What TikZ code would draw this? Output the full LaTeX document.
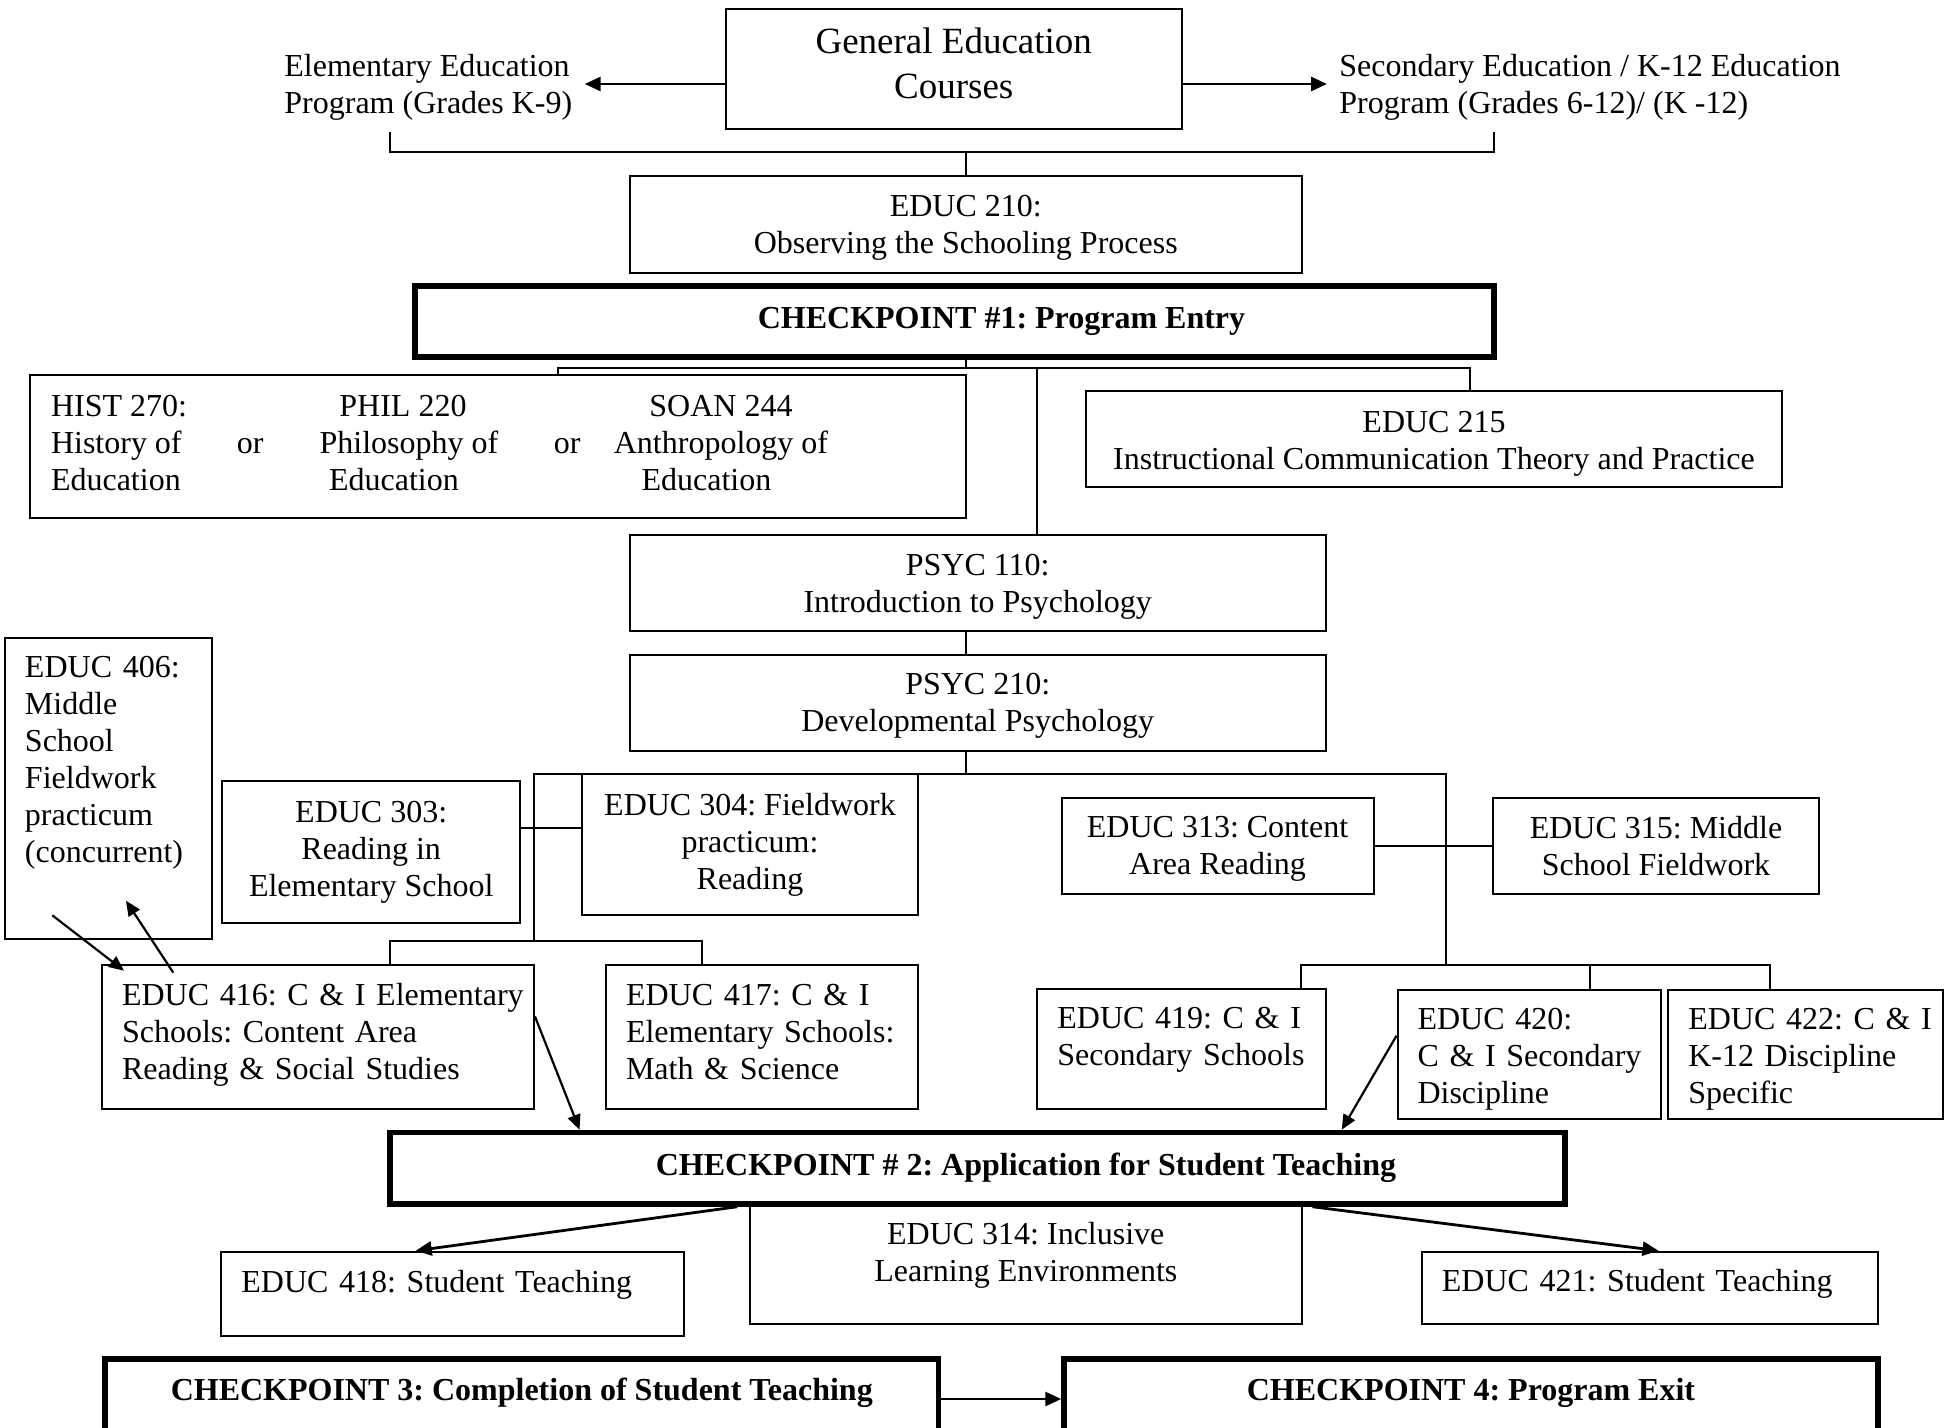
\documentclass[tikz,border=0pt]{standalone}
\usepackage{fontspec}
\setmainfont{Liberation Serif}
\usepackage{array}
\usetikzlibrary{arrows.meta,calc}
\frenchspacing
\begin{document}
\begin{tikzpicture}[x=0.5pt,y=-0.5pt,
  every node/.style={font=\fontsize{16}{18.5}\selectfont\frenchspacing},
  bx/.style={draw,line width=1pt,inner xsep=10.5pt,inner ysep=0pt,align=center},
  lbx/.style={draw,line width=1pt,inner xsep=10pt,inner ysep=0pt,align=left},
  ckp/.style={draw,line width=2.75pt,inner sep=0pt,align=center,font=\fontsize{16}{18.5}\selectfont\bfseries\frenchspacing},
  ln/.style={line width=1pt},
  arr/.style={line width=1.1pt,-{Triangle[length=7.5pt,width=6.5pt]}},
  barr/.style={line width=1.4pt,-{Triangle[length=8pt,width=7pt]}},
]
\useasboundingbox (0,0) rectangle (1950,1428);
\fill[white] (0,0) rectangle (1950,1428);
\clip (0,0) rectangle (1950,1428);

% top
\node[bx,minimum width=227.75pt,minimum height=60pt,font=\fontsize{18.5}{22.5}\selectfont] (gen) at (953.75,69) {General Education\\Courses\rule[-6.2pt]{0pt}{0pt}};
\node[align=left,inner sep=6pt,anchor=west] (elem) at (272,84) {\rule{0pt}{14pt}Elementary Education\\Program (Grades K-9)};
\node[align=left,inner sep=6pt,anchor=west] (sec) at (1327,84) {\rule{0pt}{14pt}Secondary Education / K-12 Education\\Program (Grades 6-12)/ (K -12)};
\draw[barr] (gen.west |- elem.east) -- (elem.east);
\draw[barr] (gen.east |- sec.west) -- (sec.west);

\coordinate (bl) at (390,152.5);
\coordinate (br) at (1494,152.5);
\draw[ln] (bl |- elem.south) -- (bl) -- (br) -- (br |- sec.south);

\node[bx,minimum width=336.25pt,minimum height=48.5pt] (e210) at (965.75,224.5) {\rule{0pt}{14pt}EDUC 210:\\Observing the Schooling Process};
\draw[ln] (e210.north |- bl) -- (e210.north);

\node[ckp,minimum width=539.5pt,minimum height=35.5pt] (cp1) at (954.5,321.5) {\hspace*{47pt}CHECKPOINT \#1: Program Entry};

\coordinate (j1) at (965.6,368);
\coordinate (jL) at (558,368);
\coordinate (jR) at (1470,368);
\coordinate (jP) at (1037,368);

\node[draw,line width=1pt,inner sep=0pt,minimum width=467.8pt,minimum height=71.5pt] (hist) at (497.8,446.5) {\begin{tabular}{@{}p{93pt}@{}p{37pt}@{}>{\centering\arraybackslash}p{92pt}@{}p{29.5pt}@{}p{28.5pt}@{}>{\centering\arraybackslash}p{110pt}@{}p{56.8pt}@{}}
HIST 270: & & PHIL 220 & & & SOAN 244 & \\
History of & or & \makebox[\linewidth]{\hspace*{6pt}Philosophy of} & & or & Anthropology of & \\
Education & & \makebox[\linewidth]{\hspace*{-9pt}Education} & & & \makebox[\linewidth]{\hspace*{-14.5pt}Education} &
\end{tabular}};

\node[bx,minimum width=348pt,minimum height=47.75pt] (e215) at (1434,439.25) {\rule{0pt}{15pt}EDUC 215\\Instructional Communication Theory and Practice};

\draw[ln] (j1 |- cp1.south) -- (j1);
\draw[ln] (jL |- hist.north) -- (jL) -- (jR) -- (jR |- e215.north);

\node[bx,minimum width=348.25pt,minimum height=48pt] (p110) at (977.75,583) {\rule{0pt}{14pt}PSYC 110:\\Introduction to Psychology};
\draw[ln] (jP) -- (jP |- p110.north);
\node[bx,minimum width=348.25pt,minimum height=48.05pt] (p210) at (977.75,702.75) {\rule{0pt}{14pt}PSYC 210:\\Developmental Psychology};
\draw[ln] (j1 |- p110.south) -- (j1 |- p210.north);

% middle tree
\coordinate (j2) at (965.6,773.7);
\coordinate (j2L) at (534,773.7);
\coordinate (j2R) at (1445.5,773.7);
\coordinate (j3) at (534,941);
\coordinate (k416) at (390,941);
\coordinate (k417) at (701.5,941);
\coordinate (j4) at (1445.5,965);
\coordinate (k419) at (1301.4,965);
\coordinate (k420) at (1589.7,965);
\coordinate (k422) at (1769.5,965);
\coordinate (k303) at (534,828);

\node[lbx,text width=83.5pt,minimum width=103.5pt,minimum height=150.75pt] (e406) at (108.5,788.25) {EDUC 406:\\Middle\\School\\Fieldwork\\practicum\\(concurrent)\rule[-29pt]{0pt}{0pt}};
\node[bx,minimum width=149.2pt,minimum height=70.6pt] (e303) at (371.2,852) {EDUC 303:\\Reading in\\Elementary School};
\node[bx,minimum width=168.4pt,minimum height=70.65pt] (e304) at (750,844.35) {EDUC 304: Fieldwork\\practicum:\\Reading};
\node[bx,minimum width=155.95pt,minimum height=48pt] (e313) at (1217.55,846) {\rule{0pt}{13.5pt}EDUC 313: Content\\Area Reading};
\node[bx,minimum width=162.6pt,minimum height=48pt] (e315) at (1656,846) {EDUC 315: Middle\\School Fieldwork};

\node[lbx,text width=196pt,minimum width=216pt,minimum height=72pt] (e416) at (318,1037) {\mbox{EDUC 416: C \& I Elementary}\\Schools: Content Area\\Reading \& Social Studies\rule[-6pt]{0pt}{0pt}};
\node[lbx,text width=136.2pt,minimum width=156.2pt,minimum height=72pt] (e417) at (762.2,1037) {EDUC 417: C \& I\\\mbox{Elementary Schools:}\\Math \& Science\rule[-5pt]{0pt}{0pt}};
\node[lbx,text width=124.1pt,minimum width=144.1pt,minimum height=60.2pt] (e419) at (1181.5,1049.2) {\mbox{EDUC 419: C \& I}\\\mbox{Secondary Schools}\rule[-12.7pt]{0pt}{0pt}};
\node[lbx,text width=111.9pt,minimum width=131.9pt,minimum height=64.65pt] (e420) at (1529.4,1054.65) {\rule{0pt}{15pt}EDUC 420:\\\mbox{C \& I Secondary}\\Discipline};
\node[lbx,text width=117.5pt,minimum width=137.5pt,minimum height=64.65pt] (e422) at (1805.8,1054.65) {\rule{0pt}{15pt}\mbox{EDUC 422: C \& I}\\K-12 Discipline\\Specific};

\draw[ln] (j2 |- p210.south) -- (j2);
\draw[ln] (j3) -- (j2L) -- (j2R) -- (j4);
\draw[ln] (k416 |- e416.north) -- (k416) -- (k417) -- (k417 |- e417.north);
\draw[ln] (k419 |- e419.north) -- (k419) -- (k422) -- (k422 |- e422.north);
\draw[ln] (k420) -- (k420 |- e420.north);
\draw[ln] (e303.east |- k303) -- (e304.west |- k303);
\draw[ln] (e313) -- (e315);

\draw[arr] ($(e406.south west)+(48.3,-24.7)$) -- ($(e416.north west)+(23,6.7)$);
\draw[arr] ($(e416.north west)+(72.3,8.7)$) -- ($(e406.south west)+(122,-39.3)$);

% checkpoint 2
\node[ckp,minimum width=587.5pt,minimum height=35.75pt] (cp2) at (977.5,1168.25) {\hspace*{48.5pt}CHECKPOINT \# 2: Application for Student Teaching};
\draw[arr] ($(e416.north east)+(0,52.5)$) -- ($(cp2.north west)+(192.3,0)$);
\draw[arr] ($(e420.north west)+(0,46.7)$) -- ($(cp2.north east)+(-226,0)$);

\node[bx,minimum width=276.2pt,minimum height=59pt] (e314) at (1025.8,1265) {EDUC 314: Inclusive\\Learning Environments\rule[-13pt]{0pt}{0pt}};
\node[lbx,text width=211.1pt,minimum width=231.1pt,minimum height=42.15pt] (e418) at (452.5,1293.85) {EDUC 418: Student Teaching\rule[-12.7pt]{0pt}{0pt}};
\node[lbx,text width=208.05pt,minimum width=228.05pt,minimum height=36.15pt] (e421) at (1649.95,1287.85) {EDUC 421: Student Teaching\rule[-7.3pt]{0pt}{0pt}};

\draw[barr] ($(cp2.south west)+(350,0)$) -- ($(e418.north west)+(195.3,0)$);
\draw[barr] ($(cp2.south east)+(-255.25,0)$) -- ($(e421.north west)+(237.6,0)$);

% checkpoints 3 and 4
\node[ckp,minimum width=416.75pt,minimum height=40pt] (cp3) at (521.75,1399) {CHECKPOINT 3: Completion of Student Teaching\rule[-9.5pt]{0pt}{0pt}};
\node[ckp,minimum width=407pt,minimum height=40pt] (cp4) at (1471,1399) {CHECKPOINT 4: Program Exit\rule[-9.5pt]{0pt}{0pt}};
\draw[barr] (cp3) -- (cp4);
\end{tikzpicture}
\end{document}
